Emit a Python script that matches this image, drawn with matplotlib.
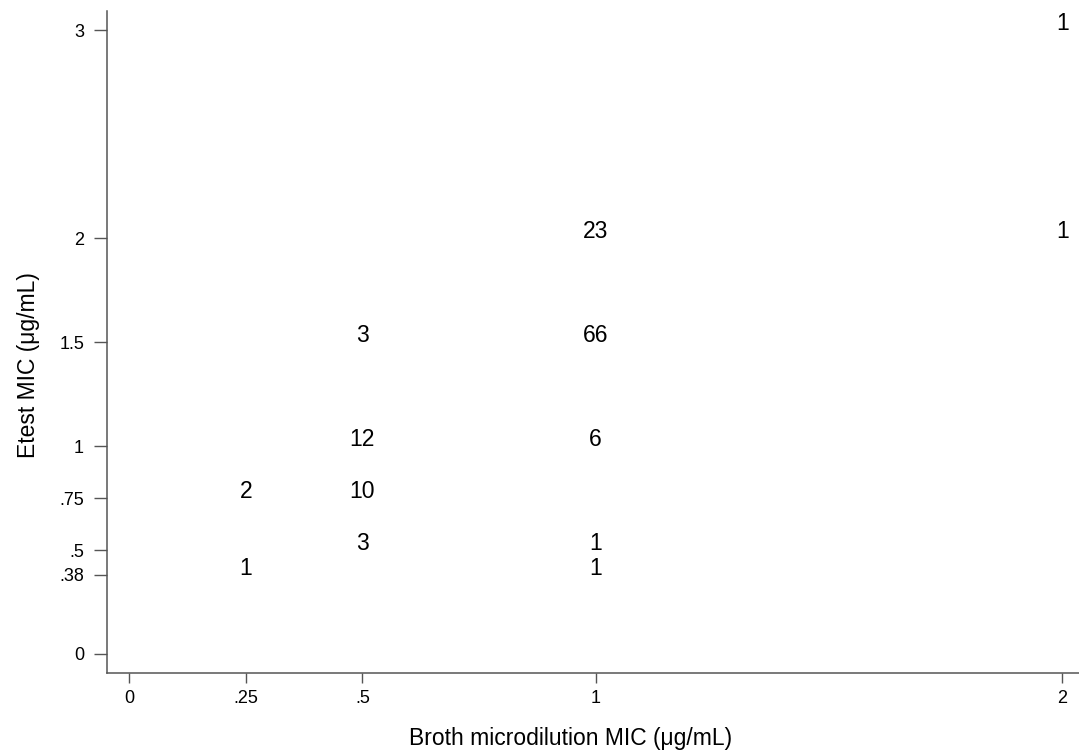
import matplotlib.pyplot as plt

# Broth microdilution MIC vs Etest MIC, counts per cell
broth_mic = [2, 2, 1, 1, 1, 1, 1, 0.5, 0.5, 0.5, 0.5, 0.25, 0.25]
etest_mic = [3, 2, 2, 1.5, 1, 0.5, 0.38, 1.5, 1, 0.75, 0.5, 0.75, 0.38]
counts = [1, 1, 23, 66, 6, 1, 1, 3, 12, 10, 3, 2, 1]

x_ticks = [0, 0.25, 0.5, 1, 2]
x_tick_labels = ['0', '.25', '.5', '1', '2']
y_ticks = [0, 0.38, 0.5, 0.75, 1, 1.5, 2, 3]
y_tick_labels = ['0', '.38', '.5', '.75', '1', '1.5', '2', '3']

plt.rcParams['font.family'] = ['Liberation Sans', 'DejaVu Sans']

fig = plt.figure(figsize=(10.79, 7.55), dpi=100)
ax = fig.add_axes([0.0992, 0.1082, 0.9008, 0.8772])

# invisible markers, counts drawn as labels
ax.scatter(broth_mic, etest_mic, s=0)
for xv, yv, n in zip(broth_mic, etest_mic, counts):
    ax.text(xv, yv, str(n), ha='center', va='baseline', fontsize=16.5, color='black')

ax.set_xlim(-0.0472, 2.036)
ax.set_ylim(-0.093, 3.093)

ax.set_xticks(x_ticks)
ax.set_xticklabels(x_tick_labels)
ax.set_yticks(y_ticks)
ax.set_yticklabels(y_tick_labels)

spine_col = '#555555'
for side in ['top', 'right']:
    ax.spines[side].set_visible(False)
for side in ['left', 'bottom']:
    ax.spines[side].set_color(spine_col)
    ax.spines[side].set_linewidth(1.1)

ax.tick_params(axis='y', length=9.5, width=1.0, color=spine_col, pad=7, labelsize=13)
ax.tick_params(axis='x', length=7, width=1.0, color=spine_col, pad=5, labelsize=13)

ax.set_xlabel('Broth microdilution MIC (μg/mL)', fontsize=16.5)
ax.set_ylabel('Etest MIC (μg/mL)', fontsize=16.5)
ax.xaxis.set_label_coords(0.4774, -0.0977)
ax.xaxis.label.set_va('center')
ax.yaxis.set_label_coords(-0.0813, 0.4655)
ax.yaxis.label.set_va('center')

fig.savefig('out.png', dpi=100)
